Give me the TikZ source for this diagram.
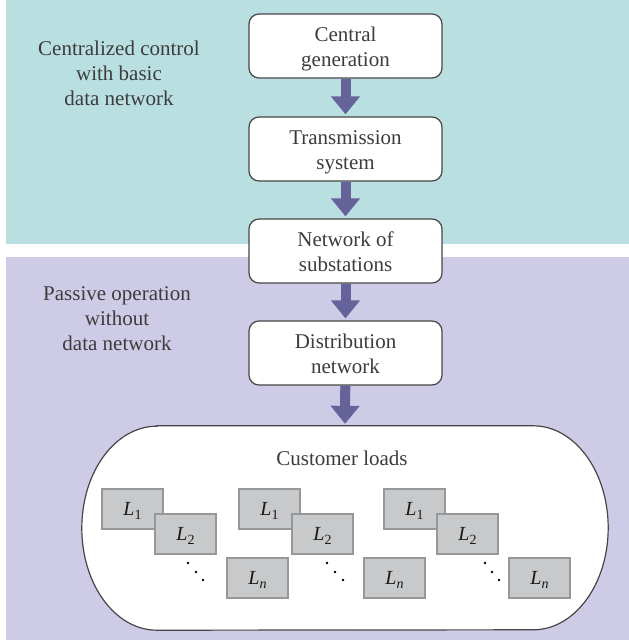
\documentclass[tikz,border=0pt]{standalone}
\usepackage{fontspec}
\setmainfont{Liberation Serif}
\usetikzlibrary{arrows.meta,calc}
\definecolor{tealbg}{RGB}{185,223,225}
\definecolor{lavbg}{RGB}{206,203,231}
\definecolor{arrc}{RGB}{102,99,155}
\definecolor{gfill}{RGB}{200,201,203}
\definecolor{gline}{RGB}{150,151,153}
\definecolor{txt}{RGB}{60,60,60}
\definecolor{outl}{RGB}{70,70,70}
\newcommand{\tst}{\rule{0pt}{22.5pt}}
\newcommand{\Lb}[1]{{\itshape L}\kern0.3pt\raisebox{-4pt}{\fontsize{14}{14}\selectfont #1}}
\begin{document}
\begin{tikzpicture}[x=1pt,y=-1pt,
  big/.style={font=\fontsize{21}{25}\selectfont, align=center, text=txt, inner sep=0pt},
  stage/.style={big, draw=outl, line width=1.2pt, fill=white, rounded corners=10pt,
    minimum width=193pt, minimum height=64pt},
  flow/.style={arrc, line width=10pt, -{Triangle[width=28pt,length=18pt]}, shorten >=2pt},
  load/.style={draw=gline, fill=gfill, line width=1.2pt, minimum width=61pt, minimum height=40pt,
    inner sep=0pt, font=\fontsize{20}{24}\selectfont, text height=13pt, text depth=1pt, text={rgb,255:red,25;green,25;blue,25}},
  dot/.style={circle, fill=black, inner sep=0pt, minimum size=2.6pt}]
\useasboundingbox (0,0) rectangle (629,640);
\fill[tealbg] (6,0) rectangle (629,244);
\fill[lavbg] (6,257) rectangle (629,640);

\node[big] (lab1) at (119,75) {\strut Centralized control\\\strut with basic\\\strut data network};
\node[big] (lab2) at (117,320) {\strut Passive operation\\\strut without\\\strut data network};

\node[stage] (s1) at (345.5,46) {\tst Central\\\strut generation};
\node[stage] (s2) at (345.5,149) {\tst Transmission\\\strut system};
\node[stage] (s3) at (345.5,251) {\tst Network of\\\strut substations};
\node[stage] (s4) at (345.5,353) {\tst Distribution\\\strut network};

\node[minimum width=526pt, minimum height=204pt, inner sep=0pt] (loads) at (345,528) {};
\draw[outl, line width=1.2pt, fill=white]
  ($(loads.north west)+(75,0)$) -- ($(loads.north east)+(-75,0)$)
  arc[start angle=90, end angle=-90, x radius=75pt, y radius=102pt]
  -- ($(loads.south west)+(75,0)$)
  arc[start angle=270, end angle=90, x radius=75pt, y radius=102pt] -- cycle;

\draw[flow] (s1) -- (s2);
\draw[flow] (s2) -- (s3);
\draw[flow] (s3) -- (s4);
\draw[flow] (s4) -- (loads.north);

\node[big, anchor=base] (title) at (342,465) {Customer loads};

\node[load] (a1) at (132.5,509) {\Lb{1}};
\node[load] (a2) at (185.5,534) {\Lb{2}};
\node[load] (an) at (257.5,578) {\Lb{\itshape n}};
\node[load] (b1) at (269.5,509) {\Lb{1}};
\node[load] (b2) at (322.5,534) {\Lb{2}};
\node[load] (bn) at (394.5,578) {\Lb{\itshape n}};
\node[load] (c1) at (414.5,509) {\Lb{1}};
\node[load] (c2) at (467.5,534) {\Lb{2}};
\node[load] (cn) at (539.5,578) {\Lb{\itshape n}};

\node[dot] (ad1) at (188,563) {};
\node[dot] (ad2) at (196,572) {};
\node[dot] (ad3) at (203,580) {};
\node[dot] (bd1) at (327,563) {};
\node[dot] (bd2) at (335,572) {};
\node[dot] (bd3) at (343,580) {};
\node[dot] (cd1) at (485,563) {};
\node[dot] (cd2) at (492,572) {};
\node[dot] (cd3) at (499,580) {};
\end{tikzpicture}
\end{document}
